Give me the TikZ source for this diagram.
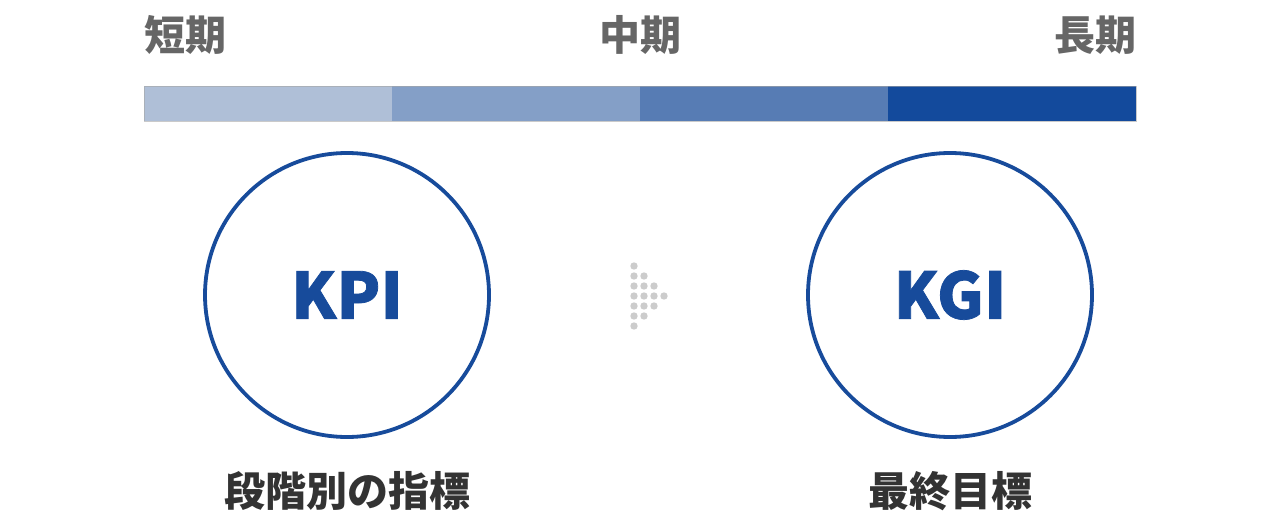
\documentclass[tikz,border=0pt]{standalone}
\usepackage{fontspec}
\newfontfamily\cjk{Noto Sans CJK JP}
\newfontfamily\kfont{Noto Sans CJK JP}[BoldFeatures={FakeBold=1.2}]
\definecolor{seg1}{HTML}{AFBFD7}
\definecolor{seg2}{HTML}{849FC7}
\definecolor{seg3}{HTML}{577CB4}
\definecolor{seg4}{HTML}{134A9C}
\definecolor{kblue}{HTML}{174B9B}
\definecolor{toptxt}{HTML}{666666}
\definecolor{bottxt}{HTML}{333333}
\definecolor{dotc}{HTML}{CCCCCC}
\tikzset{
  toplabel/.style={font=\cjk\bfseries\fontsize{41}{48}\selectfont, text=toptxt, inner sep=0pt},
  botlabel/.style={font=\cjk\bfseries\fontsize{41}{48}\selectfont, text=bottxt, inner sep=0pt},
  goal/.style={circle, draw=kblue, line width=3.8pt, minimum size=284pt, inner sep=0pt,
    font=\kfont\bfseries\fontsize{64}{66}\selectfont, text=kblue},
  dot/.style={fill=dotc, draw=none}
}
\begin{document}
\begin{tikzpicture}[x=1pt,y=-1pt]
\useasboundingbox (0,0) rectangle (1280,524);
% labels
\node[toplabel, anchor=west] (short) at (144,35) {短期};
\node[toplabel] (mid) at (640,35) {中期};
\node[toplabel, anchor=east] (long) at (1137,35) {長期};
% bar
\fill[seg1] (144,86) rectangle (392,121);
\fill[seg2] (392,86) rectangle (640,121);
\fill[seg3] (640,86) rectangle (888,121);
\fill[seg4] (888,86) rectangle (1136,121);
\draw[gray!70, opacity=0.6, line width=0.8pt] (144,86) rectangle (1136,121);
% circles
\node[goal] (kpi) at (347,295) {KPI};
\node[goal] (kgi) at (950,295) {KGI};
% bottom labels
\node[botlabel] (kpilab) at (347,491) {段階別の指標};
\node[botlabel] (kgilab) at (950,491) {最終目標};
% dotted arrow
\foreach \c/\a/\b in {0/0/6, 1/1/5, 2/2/4, 3/3/3}{
  \foreach \r in {\a,...,\b}{
    \fill[dot] ({634+10*\c},{266+10*\r}) circle (3.7);
  }
}
\end{tikzpicture}
\end{document}
